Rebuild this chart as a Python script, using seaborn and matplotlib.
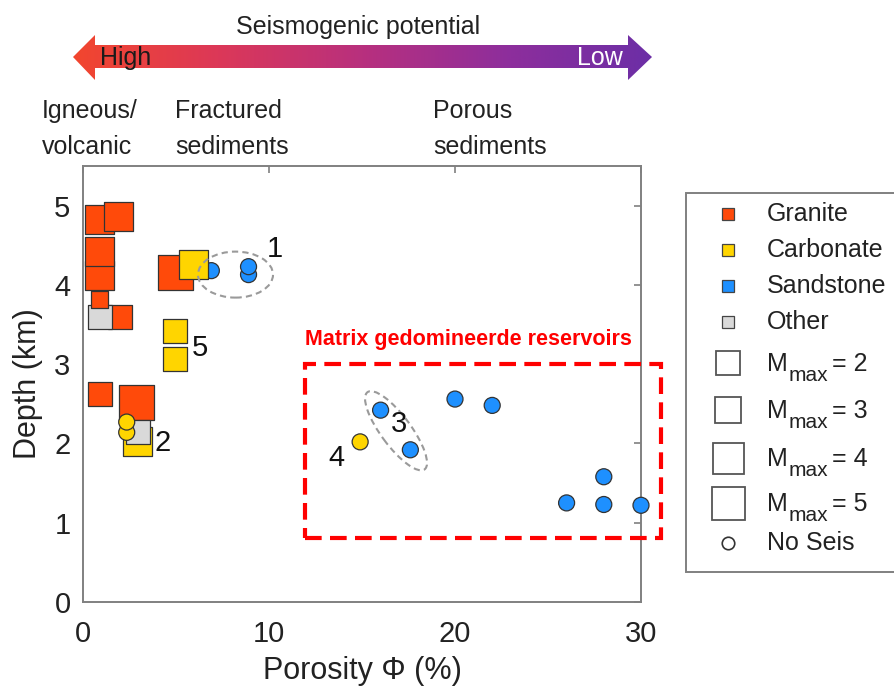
import numpy as np
import pandas as pd
import matplotlib
matplotlib.use("Agg")
import matplotlib.pyplot as plt
import seaborn as sns
from matplotlib.patches import Ellipse, Rectangle, Polygon
from matplotlib.colors import LinearSegmentedColormap
import matplotlib.transforms as mtransforms

# ---------------- data (drawing order matters) ----------------
rock = ["Sandstone", "Sandstone", "Sandstone", "Sandstone", "Sandstone", "Sandstone",
        "Sandstone", "Sandstone", "Sandstone", "Sandstone", "Sandstone",
        "Granite", "Granite", "Granite", "Granite",
        "Granite", "Other", "Granite",
        "Granite", "Carbonate",
        "Carbonate", "Carbonate",
        "Granite", "Granite", "Carbonate", "Other",
        "Carbonate", "Carbonate", "Carbonate"]
porosity = [6.9, 8.9, 8.9, 16.0, 17.6, 20.0, 22.0, 28.0, 26.0, 28.0, 30.0,
            0.9, 0.9, 0.9, 1.9,
            2.0, 0.9, 0.9,
            4.95, 5.95,
            4.95, 4.95,
            0.9, 2.9, 2.95, 2.95,
            2.35, 2.35, 14.9]
depth = [4.18, 4.13, 4.23, 2.42, 1.92, 2.56, 2.48, 1.58, 1.25, 1.23, 1.22,
         4.12, 4.42, 4.82, 4.86,
         3.60, 3.60, 3.82,
         4.16, 4.26,
         3.42, 3.06,
         2.62, 2.52, 2.03, 2.14,
         2.14, 2.27, 2.02]
mmax = [0, 0, 0, 0, 0, 0, 0, 0, 0, 0, 0,
        4, 4, 4, 4,
        3, 3, 2,
        5, 4,
        3, 3,
        3, 5, 4, 3,
        0, 0, 0]

rock_colors = {"Granite": "#FF4A0A", "Carbonate": "#FFD500",
               "Sandstone": "#1E90FF", "Other": "#D9D9D9"}
legend_rocks = ["Granite", "Carbonate", "Sandstone", "Other"]
mmax_levels = [2, 3, 4, 5]

group_labels = ["1", "2", "3", "4", "5"]
group_x = [10.3, 4.3, 17.0, 13.65, 6.3]
group_y = [4.45, 2.0, 2.25, 1.82, 3.2]

df = pd.DataFrame({"porosity": porosity, "depth": depth, "rock": rock, "mmax": mmax})
df["kind"] = np.where(df["mmax"] > 0, "seis", "none")

# ---------------- figure ----------------
sns.set_theme(style="white")
plt.rcParams['font.family'] = ['Liberation Sans', 'DejaVu Sans']

W, H = 894, 691
fig = plt.figure(figsize=(W / 100, H / 100), dpi=100)
ax = fig.add_axes([83 / W, 89 / H, 558 / W, 436 / H])

px_to_pt = 0.72
sizes = {0: (16 * px_to_pt) ** 2, 2: (17 * px_to_pt) ** 2, 3: (24 * px_to_pt) ** 2,
         4: (29 * px_to_pt) ** 2, 5: (35 * px_to_pt) ** 2}

sns.scatterplot(data=df, x="porosity", y="depth", hue="rock", palette=rock_colors,
                size="mmax", sizes=sizes, style="kind",
                markers={"seis": "s", "none": "o"},
                edgecolor="#333333", linewidth=0.9, legend=False, ax=ax, zorder=3,
                clip_on=False)

ax.set_xlim(0, 30)
ax.set_ylim(0, 5.5)
ax.set_xticks([0, 10, 20, 30])
ax.set_yticks([0, 1, 2, 3, 4, 5])
ax.tick_params(direction="in", length=5, width=1.2, color="#808080",
               top=True, right=True, labelsize=21, labelcolor="#222222")
ax.tick_params(axis="x", pad=13)
ax.tick_params(axis="y", pad=9)
for s in ax.spines.values():
    s.set_color("#808080")
    s.set_linewidth(1.4)
    s.set_visible(True)
ax.grid(False)
ax.set_xlabel("Porosity Φ (%)", fontsize=22, color="#222222", labelpad=6)
ax.set_ylabel("Depth (km)", fontsize=22, color="#222222", labelpad=8)

# group numbers
for t, x, y in zip(group_labels, group_x, group_y):
    ax.text(x, y, t, fontsize=21, color="#111111", ha="center", va="center", zorder=5)

# ellipses (sized in pixels, centered in data units)
fig.canvas.draw()
bb = ax.get_window_extent()
sx = bb.width / 30.0
sy = bb.height / 5.5
for (cx, cy, w, h, ang) in [(8.2, 4.13, 75, 46, 0), (16.83, 2.16, 96, 30, -53.5)]:
    tr = mtransforms.Affine2D().scale(1 / sx, 1 / sy).translate(cx, cy) + ax.transData
    e = Ellipse((0, 0), w, h, angle=ang, transform=tr, fill=False,
                edgecolor="#9a9a9a", linestyle=(0, (3, 2)), linewidth=1.5, zorder=4)
    ax.add_patch(e)

# red dashed box + title
rect = Rectangle((11.93, 0.81), 31.1 - 11.93, 3.0 - 0.81, fill=False, edgecolor="#FF0000",
                 linewidth=3, linestyle=(0, (4, 2)), clip_on=False, zorder=6)
ax.add_patch(rect)
ax.text(11.93, 3.31, "Matrix gedomineerde reservoirs", color="#FF0000", fontsize=15.5,
        fontweight="bold", ha="left", va="center", zorder=6)

# ---------------- pixel overlay: top arrow ----------------
ov = fig.add_axes([0, 0, 1, 1], zorder=-1)
ov.set_xlim(0, W)
ov.set_ylim(H, 0)
ov.axis("off")
cmap = LinearSegmentedColormap.from_list(
    "seis", ["#F2462E", "#DC3858", "#B8307E", "#8E2E9C", "#6C2EA6"])
grad = ov.imshow(np.linspace(0, 1, 256)[None, :], cmap=cmap, aspect="auto",
                 extent=(73, 652, 80, 35), zorder=1)
arrow = Polygon([(73, 57), (95, 35), (95, 45), (628, 45), (628, 35), (652, 57),
                 (628, 80), (628, 68), (95, 68), (95, 80)], closed=True,
                facecolor="none", edgecolor="none", transform=ov.transData)
ov.add_patch(arrow)
grad.set_clip_path(arrow)

ov.text(358, 27, "Seismogenic potential", fontsize=18,
        ha="center", va="center", color="#222222")
ov.text(100, 58, "High", fontsize=18, ha="left", va="center",
        color="#1a1a1a", zorder=3)
ov.text(577, 58, "Low", fontsize=18, ha="left", va="center",
        color="white", zorder=3)
for x, t in [(42, "Igneous/\nvolcanic"), (175, "Fractured\nsediments"),
             (433, "Porous\nsediments")]:
    ov.text(x, 99, t, fontsize=18, ha="left", va="top",
            color="#222222", linespacing=1.62)

# ---------------- legend (manual layout) ----------------
leg_ax = fig.add_axes([0, 0, 1, 1], zorder=2)
leg_ax.set_xlim(0, W)
leg_ax.set_ylim(H, 0)
leg_ax.axis("off")
leg_ax.add_patch(Rectangle((686, 193), 230, 379, facecolor="white", edgecolor="#808080",
                           linewidth=1.4, clip_on=False))
mx, tx = 728, 767
rows_rock = [214, 250, 286, 322]
for r, yy in zip(legend_rocks, rows_rock):
    leg_ax.plot([mx], [yy], marker="s", linestyle="none", markersize=8.5,
                markerfacecolor=rock_colors[r], markeredgecolor="#444444",
                markeredgewidth=0.9)
    leg_ax.text(tx, yy, r, fontsize=18, color="#222222", ha="left", va="center")
rows_m = [363, 410, 458, 503]
leg_px = {2: 24, 3: 27, 4: 31, 5: 33}
for m, yy in zip(mmax_levels, rows_m):
    leg_ax.plot([mx], [yy], marker="s", linestyle="none",
                markersize=leg_px[m] * px_to_pt, markerfacecolor="white",
                markeredgecolor="#555555", markeredgewidth=1.3)
    leg_ax.text(tx, yy + 8, "M", fontsize=18, color="#222222", ha="left", va="baseline")
    leg_ax.text(tx + 22, yy + 18, "max", fontsize=15, color="#222222", ha="left",
                va="baseline")
    leg_ax.text(tx + 65, yy + 8, "= %d" % m, fontsize=18, color="#222222", ha="left",
                va="baseline")
leg_ax.plot([mx], [543], marker="o", linestyle="none", markersize=9,
            markerfacecolor="white", markeredgecolor="#333333", markeredgewidth=1.2)
leg_ax.text(tx, 543, "No Seis", fontsize=18, color="#222222", ha="left", va="center")

fig.savefig("out.png", dpi=100)
